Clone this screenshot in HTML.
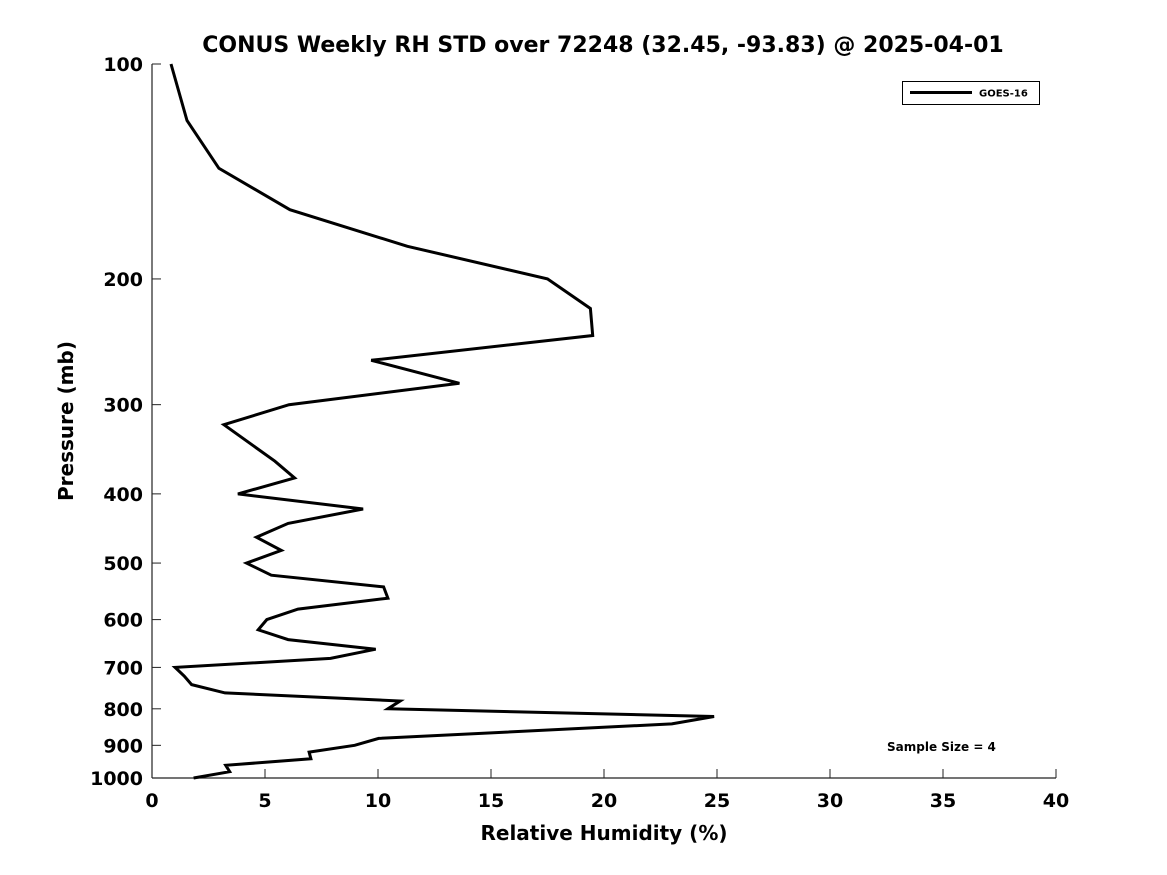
<!DOCTYPE html>
<html><head><meta charset="utf-8"><style>
body{margin:0;background:#fff;}
svg{display:block;font-family:"DejaVu Sans","Liberation Sans",sans-serif;font-weight:bold;}
</style></head><body>
<svg id="chart" width="1167" height="875">
<text x="603" y="52" text-anchor="middle" font-size="22">CONUS Weekly RH STD over 72248 (32.45, -93.83) @ 2025-04-01</text>
<g id="axes"></g>
<text x="604" y="840" text-anchor="middle" font-size="20">Relative Humidity (%)</text>
<text transform="translate(73,421) rotate(-90)" text-anchor="middle" font-size="20">Pressure (mb)</text>
<g>
<rect x="902.5" y="81.5" width="137" height="23" fill="#fff" stroke="#000" stroke-width="1"/>
<line x1="910" y1="92.5" x2="972" y2="92.5" stroke="#000" stroke-width="3"/>
<text x="979" y="96.5" font-size="10">GOES-16</text>
</g>
<text x="887" y="751" font-size="12">Sample Size = 4</text>
</svg>
<script>
const pressures=[100,120,140,160,180,200,220,240,260,280,300,320,360,380,400,420,440,460,480,500,520,540,560,580,600,620,640,660,680,700,720,740,760,780,800,820,840,880,900,920,940,960,980,1000];
const rhStd=[0.84,1.55,2.96,6.1,11.3,17.5,19.4,19.5,9.7,13.6,6.06,3.18,5.44,6.31,3.8,9.34,6.02,4.62,5.72,4.18,5.28,10.25,10.44,6.46,5.08,4.7,6.02,9.9,7.9,1.02,1.43,1.75,3.23,10.98,10.44,24.87,23.0,10.03,8.97,6.95,7.03,3.26,3.44,1.84];
const xTicks=[0,5,10,15,20,25,30,35,40];
const yTicks=[100,200,300,400,500,600,700,800,900,1000];
const X0=152,X1=1056,Y0=64,Y1=778;
const xs=v=>X0+(v-0)/(40-0)*(X1-X0);
const ys=p=>Y0+(Math.log10(p)-2)/(3-2)*(Y1-Y0);
const NS="http://www.w3.org/2000/svg";
const g=document.getElementById('axes');
function mk(t,a){const e=document.createElementNS(NS,t);for(const k in a)e.setAttribute(k,a[k]);g.appendChild(e);return e;}
let e=mk('line',{x1:X0,y1:Y0,x2:X0,y2:Y1,stroke:'#222','stroke-width':1.2});


e=mk('line',{x1:X0,y1:Y1,x2:X1,y2:Y1,stroke:'#222','stroke-width':1.2});


xTicks.forEach(v=>{
 const x=xs(v);
 let t=mk('line',{x1:x,y1:Y1,x2:x,y2:Y1-9,stroke:'#222','stroke-width':1});
 
 
 let l=mk('text',{x:x,y:807,'text-anchor':'middle','font-size':19});
 l.textContent=v;
 
 
});
yTicks.forEach(p=>{
 const y=ys(p);
 let t=mk('line',{x1:X0,y1:y,x2:X0+9,y2:y,stroke:'#222','stroke-width':1});
 
 
 let l=mk('text',{x:143,y:y+7,'text-anchor':'end','font-size':19});
 l.textContent=p;
 
 
});
const pts=pressures.map((p,i)=>xs(rhStd[i]).toFixed(1)+','+ys(p).toFixed(1)).join(' ');
e=mk('polyline',{points:pts,fill:'none',stroke:'#000','stroke-width':3,'stroke-linejoin':'miter'});


</script>
</body></html>
